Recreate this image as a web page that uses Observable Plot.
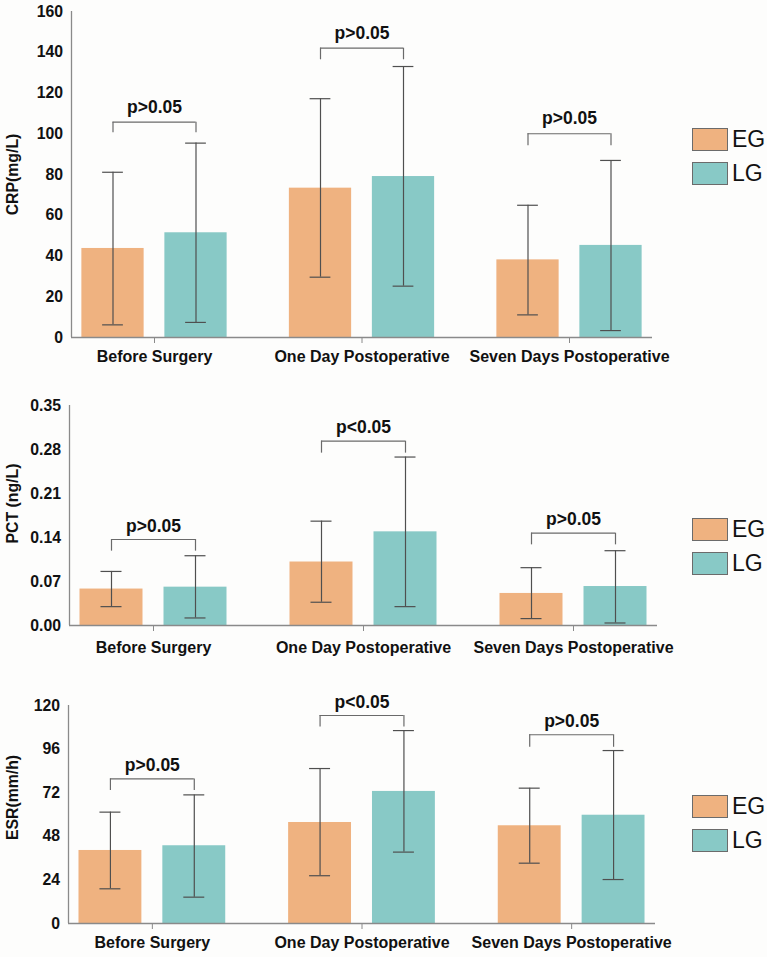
<!DOCTYPE html>
<html>
<head>
<meta charset="utf-8">
<script src="https://cdn.jsdelivr.net/npm/d3@7"></script>
<script src="https://cdn.jsdelivr.net/npm/@observablehq/plot@0.6"></script>
<style>
  html, body { margin: 0; padding: 0; background: #fdfdfc; }
  body { width: 767px; height: 957px; overflow: hidden; font-family: "Liberation Sans", Arial, sans-serif; }
  .panel { position: relative; width: 767px; }
  .panel svg { display: block; background: transparent; }
  .legend { position: absolute; left: 692px; display: flex; flex-direction: column; gap: 11px; }
  .legend .row { display: flex; align-items: center; height: 23px; }
  .legend .sw { width: 34px; height: 21px; border: 1px solid #6b6b6b; box-sizing: content-box; }
  .legend .lab { margin-left: 4px; font-size: 23px; color: #111; line-height: 23px; }
</style>
</head>
<body>
<div id="root"></div>
<script>
// ---------- data ----------
const categories = ["Before Surgery", "One Day Postoperative", "Seven Days Postoperative"];
const groups = ["EG", "LG"];
const groupColors = ["#efb280", "#88c9c6"];

// CRP (mg/L)
const crpTicks = [0, 20, 40, 60, 80, 100, 120, 140, 160];
const crpEGMean = [43.7, 73.3, 38.1];
const crpEGLow  = [6.2, 29.6, 11.1];
const crpEGHigh = [81.1, 117.2, 64.9];
const crpLGMean = [51.4, 79.0, 45.2];
const crpLGLow  = [7.4, 25.2, 3.4];
const crpLGHigh = [95.4, 133.0, 86.9];
const crpBracket = [105.7, 142.0, 100.0];
const crpLeg     = [100.5, 136.3, 94.1];
const crpP = ["p>0.05", "p>0.05", "p>0.05"];

// PCT (ng/L)
const pctTicks = [0, 0.07, 0.14, 0.21, 0.28, 0.35];
const pctEGMean = [0.058, 0.101, 0.051];
const pctEGLow  = [0.030, 0.037, 0.011];
const pctEGHigh = [0.086, 0.166, 0.092];
const pctLGMean = [0.061, 0.149, 0.062];
const pctLGLow  = [0.012, 0.030, 0.004];
const pctLGHigh = [0.111, 0.268, 0.119];
const pctBracket = [0.1368, 0.2933, 0.1469];
const pctLeg     = [0.1183, 0.2742, 0.1283];
const pctP = ["p>0.05", "p<0.05", "p>0.05"];

// ESR (mm/h)
const esrTicks = [0, 24, 48, 72, 96, 120];
const esrEGMean = [40.2, 55.6, 53.8];
const esrEGLow  = [19.1, 26.3, 33.2];
const esrEGHigh = [61.3, 85.3, 74.5];
const esrLGMean = [42.8, 72.7, 59.6];
const esrLGLow  = [14.5, 39.3, 24.2];
const esrLGHigh = [70.8, 106.2, 95.2];
const esrBracket = [79.6, 114.5, 103.9];
const esrLeg     = [73.2, 108.1, 97.0];
const esrP = ["p>0.05", "p<0.05", "p>0.05"];

// ---------- layout ----------
const FONT = "Liberation Sans, Arial, sans-serif";
const GROUP_OFFSET = 0.2, BAR_HALF = 0.15, CAP_HALF = 0.05;

const panels = [
  { label: "CRP(mg/L)", ticks: crpTicks, fmt: d3.format("d"), domain: [0, 160],
    eg: [crpEGMean, crpEGLow, crpEGHigh], lg: [crpLGMean, crpLGLow, crpLGHigh],
    bracket: crpBracket, leg: crpLeg, p: crpP,
    height: 375, mt: 11, mb: 38, ml: 71, mr: 115, xPad: 7.5, pDy: -9.5, labelDy: 0, legendTop: 128 },
  { label: "PCT (ng/L)", ticks: pctTicks, fmt: d3.format(".2f"), domain: [0, 0.35],
    eg: [pctEGMean, pctEGLow, pctEGHigh], lg: [pctLGMean, pctLGLow, pctLGHigh],
    bracket: pctBracket, leg: pctLeg, p: pctP,
    height: 290, mt: 30, mb: 40, ml: 69, mr: 110, xPad: 10.5, pDy: -8, labelDy: -12, legendTop: 143 },
  { label: "ESR(mm/h)", ticks: esrTicks, fmt: d3.format("d"), domain: [0, 120],
    eg: [esrEGMean, esrEGLow, esrEGHigh], lg: [esrLGMean, esrLGLow, esrLGHigh],
    bracket: esrBracket, leg: esrLeg, p: esrP,
    height: 292, mt: 40, mb: 34, ml: 68, mr: 112, xPad: 7.5, pDy: -7.5, labelDy: -17, legendTop: 130 }
];

const root = document.getElementById("root");

for (const cfg of panels) {
  const rows = [];
  categories.forEach((c, i) => {
    [cfg.eg, cfg.lg].forEach((arr, gi) => {
      rows.push({
        cat: c, group: groups[gi],
        x: i + (gi === 0 ? -GROUP_OFFSET : GROUP_OFFSET),
        mean: arr[0][i], low: arr[1][i], high: arr[2][i]
      });
    });
  });
  const brackets = categories.map((c, i) => ({
    x: i, xa: i - GROUP_OFFSET, xb: i + GROUP_OFFSET,
    level: cfg.bracket[i], leg: cfg.leg[i], label: cfg.p[i]
  }));

  const chart = Plot.plot({
    width: 767,
    height: cfg.height,
    marginTop: cfg.mt,
    marginBottom: cfg.mb,
    marginLeft: cfg.ml,
    marginRight: cfg.mr,
    style: { fontFamily: FONT, background: "transparent", color: "#111" },
    x: { type: "linear", domain: [-0.4, 2.4] },
    y: { domain: cfg.domain },
    color: { domain: groups, range: groupColors },
    marks: [
      Plot.rectY(rows, { x1: d => d.x - BAR_HALF, x2: d => d.x + BAR_HALF, y1: 0, y2: "mean", fill: "group" }),
      Plot.ruleX(rows, { x: "x", y1: "low", y2: "high", stroke: "#4f4f4f", strokeWidth: 1.2 }),
      Plot.ruleY(rows, { y: "high", x1: d => d.x - CAP_HALF, x2: d => d.x + CAP_HALF, stroke: "#4f4f4f", strokeWidth: 1.2 }),
      Plot.ruleY(rows, { y: "low", x1: d => d.x - CAP_HALF, x2: d => d.x + CAP_HALF, stroke: "#4f4f4f", strokeWidth: 1.2 }),
      // significance brackets
      Plot.ruleY(brackets, { y: "level", x1: "xa", x2: "xb", stroke: "#6a6a6a", strokeWidth: 1.2 }),
      Plot.ruleX(brackets, { x: "xa", y1: "leg", y2: "level", stroke: "#6a6a6a", strokeWidth: 1.2 }),
      Plot.ruleX(brackets, { x: "xb", y1: "leg", y2: "level", stroke: "#6a6a6a", strokeWidth: 1.2 }),
      Plot.text(brackets, { x: "x", y: "level", text: "label", lineAnchor: "bottom", dy: cfg.pDy,
        fontSize: 17.5, fontWeight: "bold", fill: "#111" }),
      // axis lines
      Plot.ruleY([0], { stroke: "#8a8a8a", strokeWidth: 1.3 }),
      Plot.ruleX([-0.4], { stroke: "#8a8a8a", strokeWidth: 1.3 }),
      // axes
      Plot.axisY({ ticks: cfg.ticks, tickFormat: cfg.fmt, tickSize: 0, tickPadding: 8.5, label: null,
        fontSize: 15.8, fontWeight: "bold", fill: "#111" }),
      Plot.axisX({ ticks: [0, 1, 2], tickFormat: i => categories[i], tickSize: 6, tickPadding: cfg.xPad, label: null,
        fontSize: 16, fontWeight: "bold", fill: "#111", stroke: "#8a8a8a" }),
      // y label
      Plot.text([cfg.label], { text: d => d, frameAnchor: "left", textAnchor: "middle", rotate: -90,
        dx: 12.5 - cfg.ml, dy: cfg.labelDy, fontSize: 15.8, fontWeight: "bold", fill: "#111" })
    ]
  });

  const div = document.createElement("div");
  div.className = "panel";
  div.style.height = cfg.height + "px";
  div.appendChild(chart);

  const legend = document.createElement("div");
  legend.className = "legend";
  legend.style.top = cfg.legendTop + "px";
  groups.forEach((g, gi) => {
    const row = document.createElement("div");
    row.className = "row";
    const sw = document.createElement("div");
    sw.className = "sw";
    sw.style.background = groupColors[gi];
    const lab = document.createElement("span");
    lab.className = "lab";
    lab.textContent = g;
    row.appendChild(sw);
    row.appendChild(lab);
    legend.appendChild(row);
  });
  div.appendChild(legend);
  root.appendChild(div);
}
</script>
</body>
</html>
